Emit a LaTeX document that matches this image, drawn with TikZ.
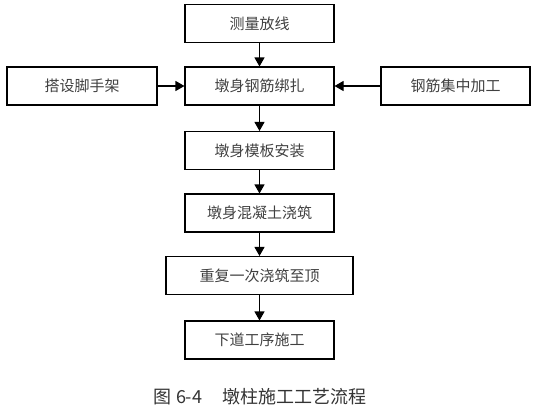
\documentclass[tikz,border=0pt]{standalone}
\usepackage{fontspec}
\setmainfont{Noto Sans CJK SC}
\usepackage{tikz}
\usetikzlibrary{arrows.meta}
\usetikzlibrary{positioning}

\begin{document}
\begin{tikzpicture}[x=0.75pt,y=-0.75pt,line width=0.8pt,
  every node/.style={draw,rectangle,inner sep=0pt,minimum width=111.75pt,minimum height=28.5pt,
    font=\fontsize{11.25pt}{13pt}\selectfont,text=black!75},
  flow/.style={-{Triangle[length=6.75pt,width=7.5pt]}}]
  \useasboundingbox (0,0) rectangle (536,412);
  \node (1) at (259.5,23.5) {测量放线};
  \node (2) at (259.5,86) {墩身钢筋绑扎};
  \node (3) at (259.5,150.5) {墩身模板安装};
  \node (4) at (259.5,213) {墩身混凝土浇筑};
  \node[minimum width=140.25pt] (5) at (259.5,275.5) {重复一次浇筑至顶};
  \node (6) at (259.5,340) {下道工序施工};
  \node[minimum width=112.5pt] (7) at (82,86) {搭设脚手架};
  \node (8) at (455.5,86) {钢筋集中加工};
  \node[draw=none,font=\fontsize{13.5pt}{15pt}\selectfont,text=black!80] (9) at (260,397) {图 6-4\hspace{1.1em}墩柱施工工艺流程};
  \draw[flow](1)--(2);
  \draw[flow](2)--(3);
  \draw[flow](3)--(4);
  \draw[flow](4)--(5);
  \draw[flow](5)--(6);
  \draw[flow](7)--(2);
  \draw[flow](8)--(2);
\end{tikzpicture}
\end{document}
